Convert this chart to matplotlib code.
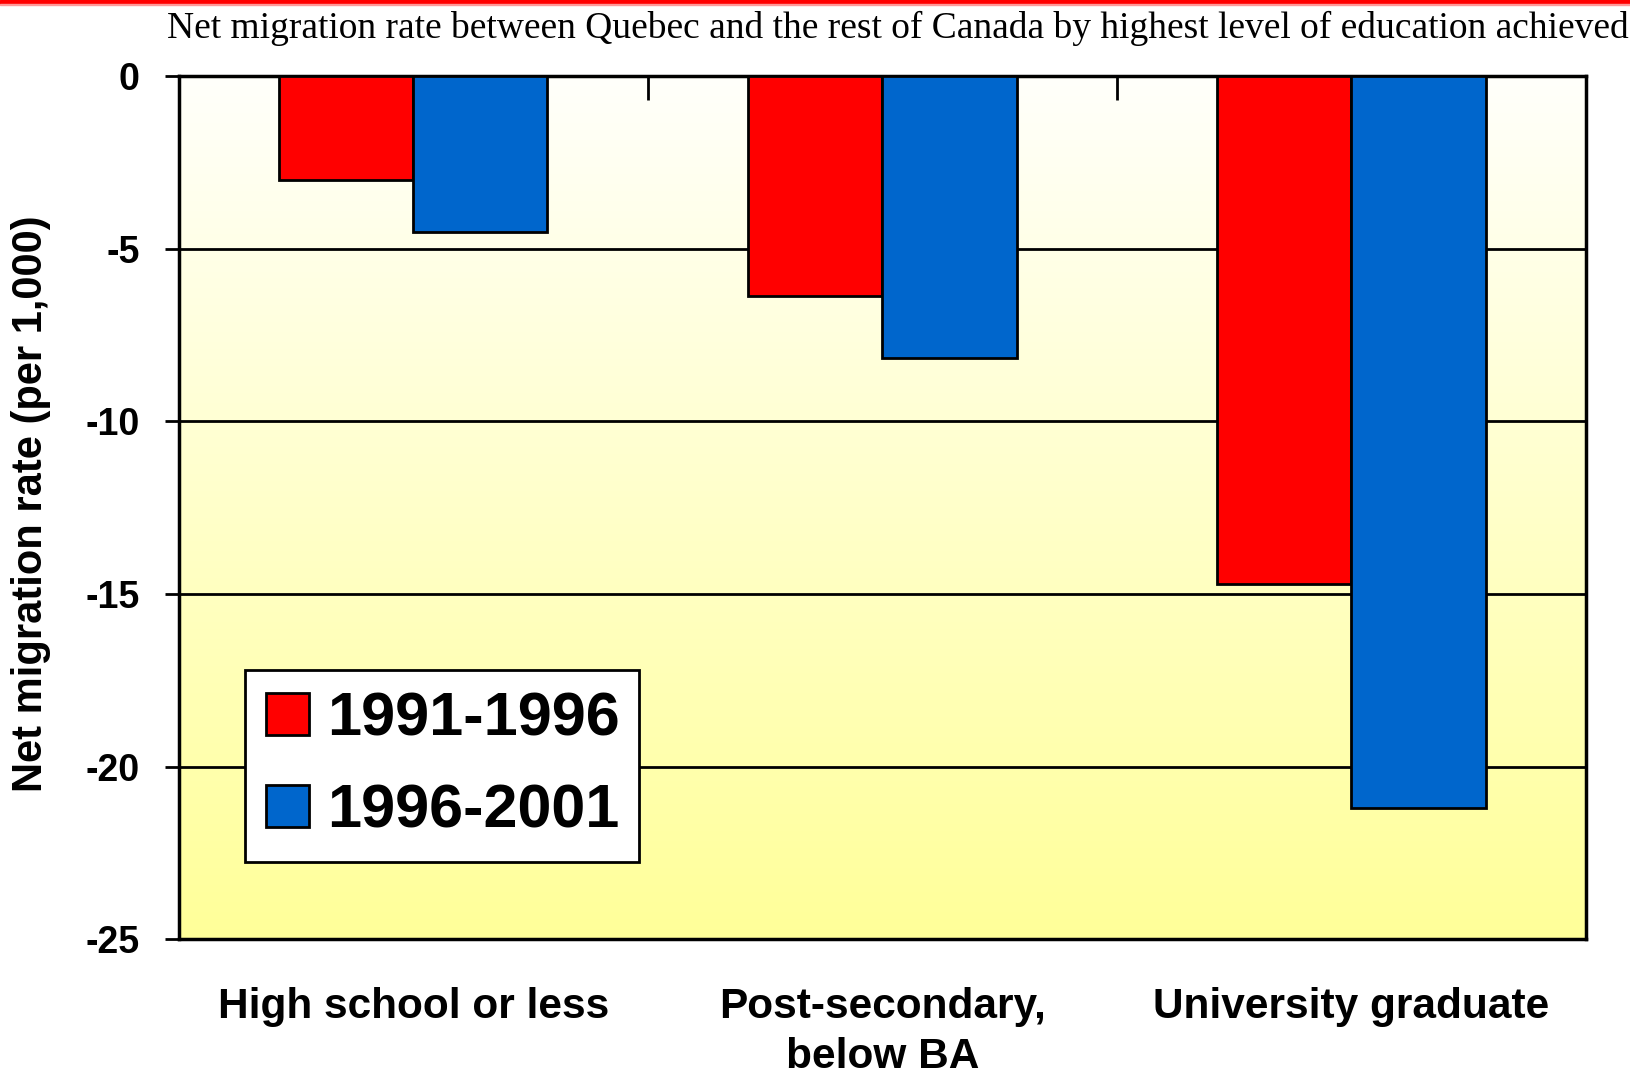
import numpy as np
import matplotlib
matplotlib.use("Agg")
import matplotlib.pyplot as plt
from matplotlib.patches import Rectangle
from matplotlib.colors import LinearSegmentedColormap

categories = ["High school or less", "Post-secondary,\nbelow BA", "University graduate"]
series_names = ["1991-1996", "1996-2001"]
rate_1991_1996 = [-3.0, -6.35, -14.7]
rate_1996_2001 = [-4.5, -8.15, -21.2]
colors = ["#FF0000", "#0066CC"]
yticks = [0, -5, -10, -15, -20, -25]

plt.rcParams['font.family'] = ['Liberation Sans', 'DejaVu Sans']

fig = plt.figure(figsize=(16.31, 10.77), dpi=100)
ax = fig.add_axes([0.1096, 0.1281, 0.8628, 0.8009])

# gradient background, white at top to pale yellow at bottom
cmap = LinearSegmentedColormap.from_list("bg", ["#FFFFFB", "#FFFF99"])
grad = np.linspace(0, 1, 256).reshape(-1, 1)
ax.imshow(grad, aspect='auto', cmap=cmap, extent=(-0.5, 2.5, -25, 0),
          origin='upper', zorder=0)

x = np.arange(len(categories))
w = 0.286
ax.bar(x - w / 2, rate_1991_1996, w, color=colors[0], edgecolor='black',
       linewidth=2, label=series_names[0], zorder=3)
ax.bar(x + w / 2, rate_1996_2001, w, color=colors[1], edgecolor='black',
       linewidth=2, label=series_names[1], zorder=3)

ax.set_xlim(-0.5, 2.5)
ax.set_ylim(-25, 0)
for yv in yticks[1:-1]:
    ax.axhline(yv, color='black', lw=2, zorder=1)

ax.set_yticks(yticks)
ax.set_yticklabels([str(v) for v in yticks], fontsize=27, fontweight='bold')
ax.tick_params(axis='y', direction='out', length=10, width=2, pad=18)

ax.set_xticks(x)
ax.set_xticklabels(categories, fontsize=30.5, fontweight='bold', linespacing=1.33,
                   va='top')
ax.tick_params(axis='x', which='major', bottom=False, top=False, pad=31)
ax.set_xticks([0.5, 1.5], minor=True)
ax.tick_params(axis='x', which='minor', bottom=False, top=True,
               direction='in', length=17, width=2)

for s in ax.spines.values():
    s.set_linewidth(2.5)

ax.set_ylabel("Net migration rate (per 1,000)", fontsize=30, fontweight='bold')
ax.yaxis.set_label_coords(-0.0905, 0.505)

leg = ax.legend(loc='lower left', bbox_to_anchor=(0.0471, 0.0893, 0.28, 0.218),
                mode='expand', borderaxespad=0, fancybox=False,
                prop={'size': 44, 'weight': 'bold'}, handlelength=0.69,
                handleheight=0.69, handletextpad=0.3, labelspacing=0.58,
                borderpad=0.35)
leg.get_frame().set_edgecolor('black')
leg.get_frame().set_linewidth(2)
leg.get_frame().set_alpha(1)
leg.set_zorder(5)

fig.text(0.5506, 0.974,
         "Net migration rate between Quebec and the rest of Canada by highest level of education achieved",
         ha='center', va='center', fontsize=27, family='Liberation Serif')

# red rule across the top of the slide
fig.patches.append(Rectangle((0, 0.9963), 1, 0.0037, transform=fig.transFigure,
                             color='#FF0000', zorder=10))
fig.patches.append(Rectangle((0, 0.9950), 1, 0.0014, transform=fig.transFigure,
                             color='#FF9999', zorder=10))

fig.savefig("out.png", dpi=100)
